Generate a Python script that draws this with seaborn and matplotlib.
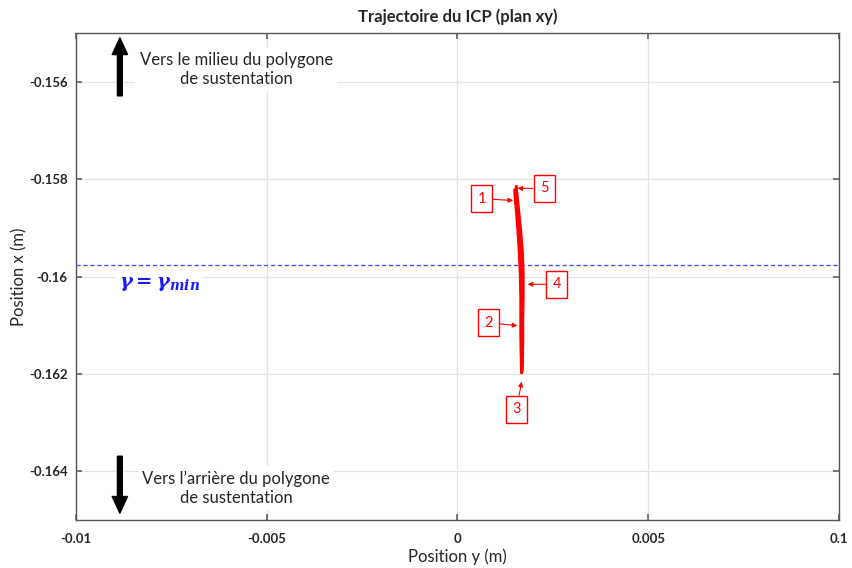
import matplotlib
matplotlib.use("Agg")
import matplotlib.pyplot as plt
import seaborn as sns
import pandas as pd

# ICP trajectory in the xy plane (y position, x position), in metres
pos_y = [0.00150, 0.00152, 0.00155, 0.00158, 0.00161, 0.00163, 0.00165, 0.00166,
         0.00166, 0.00166, 0.00167, 0.00168,
         0.00170, 0.00171, 0.00171, 0.00172, 0.00172, 0.00170, 0.00166, 0.00161,
         0.00157, 0.00155, 0.00154]
pos_x = [-0.15822, -0.15845, -0.15870, -0.15900, -0.15935, -0.15965, -0.16000, -0.16040,
         -0.16080, -0.16120, -0.16160, -0.16198,
         -0.16190, -0.16140, -0.16090, -0.16040, -0.15990, -0.15950, -0.15910, -0.15870,
         -0.15840, -0.15825, -0.15815]

gamma_min_x = -0.15977

# numbered markers: label, box centre (y, x), pointed location (y, x)
marker_labels = ["1", "5", "4", "2", "3"]
marker_box = [(0.00063, -0.15840), (0.00228, -0.15819), (0.00260, -0.16016),
              (0.00081, -0.16095), (0.00155, -0.16273)]
marker_tip = [(0.00146, -0.15844), (0.00157, -0.15819), (0.00184, -0.16016),
              (0.00157, -0.16101), (0.00168, -0.16216)]

xticks = [-0.01, -0.005, 0, 0.005, 0.01]
xtick_labels = ["-0.01", "-0.005", "0", "0.005", "0.1"]
yticks = [-0.164, -0.162, -0.16, -0.158, -0.156]
ytick_labels = ["-0.164", "-0.162", "-0.16", "-0.158", "-0.156"]

sns.set_theme(style="whitegrid")
plt.rcParams["font.family"] = ["Lato", "DejaVu Sans"]
plt.rcParams["mathtext.fontset"] = "custom"
plt.rcParams["mathtext.bf"] = "DejaVu Serif:italic:bold"
plt.rcParams["mathtext.it"] = "DejaVu Serif:italic:bold"
plt.rcParams["mathtext.rm"] = "DejaVu Serif:italic:bold"

fig = plt.figure(figsize=(8.52, 5.68), dpi=100)
ax = fig.add_axes([0.0892, 0.0845, 0.8955, 0.8574])

df = pd.DataFrame({"y": pos_y, "x": pos_x})
sns.lineplot(data=df, x="y", y="x", sort=False, estimator=None, color="#ff0000",
             linewidth=2.2, ax=ax, zorder=4)

ax.axhline(gamma_min_x, color="#4d4dff", linestyle=(0, (3, 2)), linewidth=1.0, zorder=3)

ax.set_xlim(-0.01, 0.01)
ax.set_ylim(-0.165, -0.155)
ax.set_xticks(xticks)
ax.set_xticklabels(xtick_labels, fontweight="bold", fontsize=9.5)
ax.set_yticks(yticks)
ax.set_yticklabels(ytick_labels, fontweight="bold", fontsize=9.5)
ax.tick_params(direction="in", length=4, color="#666666", top=True, right=True,
               bottom=True, left=True)
ax.tick_params(axis="x", pad=9)
ax.tick_params(axis="y", pad=6)
ax.grid(True, color="#e3e3e3", linewidth=0.9)
for s in ax.spines.values():
    s.set_color("#555555")
    s.set_linewidth(1.0)

ax.set_title("Trajectoire du ICP (plan xy)", fontsize=12, fontweight="bold", pad=8)
ax.set_xlabel("Position y (m)", fontsize=12, labelpad=3)
ax.set_ylabel("Position x (m)", fontsize=12, labelpad=1)

# direction arrows and captions
ax.annotate("", xy=(-0.00885, -0.15510), xytext=(-0.00885, -0.15629),
            arrowprops=dict(width=3.5, headwidth=11, headlength=12, color="black"), zorder=6)
ax.annotate("", xy=(-0.00885, -0.16486), xytext=(-0.00885, -0.16369),
            arrowprops=dict(width=3.5, headwidth=11, headlength=12, color="black"), zorder=6)
ax.text(-0.0058, -0.15575, "Vers le milieu du polygone\nde sustentation", ha="center",
        va="center", fontsize=12, linespacing=1.25, zorder=5,
        bbox=dict(facecolor="white", edgecolor="none", pad=3))
ax.text(-0.0058, -0.16435, "Vers l\u2019arrière du polygone\nde sustentation", ha="center",
        va="center", fontsize=12, linespacing=1.25, zorder=5,
        bbox=dict(facecolor="white", edgecolor="none", pad=3))

ax.text(-0.00782, -0.16016, r"$\mathbf{\gamma = \gamma_{min}}$", ha="center", va="center",
        fontsize=14, color="#1a1aff", zorder=5,
        bbox=dict(facecolor="white", edgecolor="none", pad=2))

for lab, (bx, by), (tx, ty) in zip(marker_labels, marker_box, marker_tip):
    ax.annotate(lab, xy=(tx, ty), xytext=(bx, by), ha="center", va="center",
                fontsize=10.5, color="#ff0000", zorder=7,
                bbox=dict(boxstyle="square,pad=0.45", facecolor="white",
                          edgecolor="#ff0000", linewidth=1.0),
                arrowprops=dict(arrowstyle="-|>", color="#ff0000", lw=0.8,
                                mutation_scale=7, shrinkA=0, shrinkB=0))

fig.savefig("out.png", dpi=100)
